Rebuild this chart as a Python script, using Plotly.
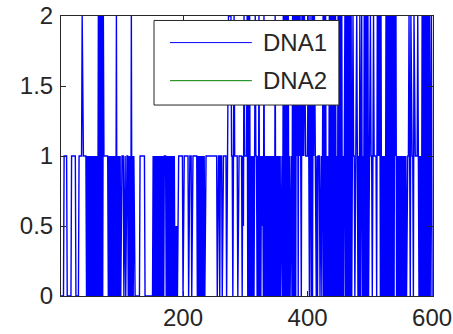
import plotly.graph_objects as go

# DNA1 sequence values (index 1..600)
dna1_a = ([0]*8 + [1]*5 + [0]*7 + [1]*7 + [0]*5 + [1]*5 + [2] + [1]*6 +
          [0,1,0,1,0,1,0,1,0,1,0,1,0,1,0,1,0,1,0] +
          [2,0,2,0,2,0,2,0,2] + [1]*7 +
          [0,1,0,1,0,1,0,1,0,1,0,1,0,2,0,1,0,1,0,1,0] +
          [1,1,1,1] + [0] + [1,1,0,1,1,1,0] + [1,0,1,0,2,0,1,0,1] +
          [0]*9 + [1]*8 + [0]*13 + [1])
dna1_b = ([0,1]*9 + [1,1] + [0,1,0,1,0,1,0,1,0,1,0,1,0,1,0] +
          [0.5,0,0.5,0] + [1]*8 + [0] + [1]*8 + [0] + [1]*4 + [0] + [1]*8 +
          [0,1]*7 + [1]*18 + [0] + [1,1,1] + [0] + [1,1,1] + [0] + [1]*6 +
          [0] + [1,1] + [2]*5 + [1,1] + [0] + [1] + [2] + [1]*5 + [0] +
          [1]*6 + [0] + [1] + [0.5] + [2] + [1]*4 + [2])
dna1_c = ([0,2,0,2,0] + [1,0,1,0,1,0,1] + [2] + [1,1] +
          [0,1,0,2,0,1,0,1,0.5,1,0,2,0,1,0,1,0,1,0,1,0,1,0,1,0,1,0,1,0,2,
           0,1,0,1,0,1,0,1,0] +
          [1,1] + [0,2,0,2,0,2,0,2,0,2] + [0,1,0] + [1,1] + [0,2,0,2,0,2,0] +
          [2,1,2,0,2,1,2,1,0,2,1,2,1,2] + [1]*5 +
          [2,1,0,2,1,0,2,0,2,1,2] + [1,1] + [0,1,0,1,1,1,0,1,1] +
          [0,1,2,0,2,0,2,0] + [1,0,1] + [0,2,0,2,0,2,0,2,0,2,0,2,0] + [1,0])
dna1_d = ([2,0,2,0,2,0,2] + [0,1,0,1] + [2,0,2,0,2,0,2,0,2,0,2,0,2] +
          [2,1,1,0,1,1,2,1] +
          [0,1,0,2,0,1,2,0,1,0,2,0,2,0,2,0,2,0,1] +
          [1,2,1,1,0,1,2,1,1,1,1] + [0,2,1,2,1,2,0,2,0] + [1,0,1,0,1,0] +
          [2,0]*7 + [2,1,2,0] + [1,0]*8 + [1] +
          [1,1,2,1,0,2,1,1,1,0] + [2,1,1,1,1,1,2,1] + [0,1,0,1,0,2] +
          [0,2,0,2,0,2,0,2,0,2,0,2,0] + [1,2,0])
dna1 = dna1_a + dna1_b + dna1_c + dna1_d
positions = list(range(1, len(dna1) + 1))
dna2 = [None] * len(dna1)   # DNA2 is not visible in the plot

series_names = ["DNA1", "DNA2"]
series_colors = ["#0000FF", "#008000"]
x_ticks = [200, 400, 600]
y_ticks = [0, 0.5, 1, 1.5, 2]
y_ticktext = ["0", "0.5", "1", "1.5", "2"]

fig = go.Figure()
fig.add_trace(go.Scatter(x=positions, y=dna1, mode="lines", name=series_names[0],
                         line=dict(color=series_colors[0], width=1.4)))
fig.add_trace(go.Scatter(x=positions, y=dna2, mode="lines", name=series_names[1],
                         line=dict(color=series_colors[1], width=1)))

font = dict(family="Liberation Sans, Arial, sans-serif", size=24, color="#262626")

fig.update_layout(
    width=453, height=334,
    margin=dict(l=61, r=20, t=16, b=38, autoexpand=False),
    paper_bgcolor="white", plot_bgcolor="white",
    showlegend=False,
    font=font,
    xaxis=dict(range=[4, 601.5], tickvals=x_ticks, ticks="inside", ticklen=5,
               tickcolor="#262626", showline=True, linecolor="#262626", linewidth=1,
               mirror="ticks", showgrid=False, zeroline=False, tickfont=font,
               automargin=False),
    yaxis=dict(range=[0, 2], tickvals=y_ticks, ticktext=y_ticktext, ticks="inside",
               ticklen=5, tickcolor="#262626", showline=True, linecolor="#262626",
               linewidth=1, mirror="ticks", showgrid=False, zeroline=False,
               tickfont=font, ticklabelstandoff=2, automargin=False),
)

# Legend box drawn to match the reference layout
lx0, lx1, ly0, ly1 = 0.25, 0.747, 0.682, 0.984
fig.add_shape(type="rect", xref="paper", yref="paper", x0=lx0, x1=lx1, y0=ly0, y1=ly1,
              fillcolor="white", line=dict(color="#262626", width=1), layer="above")
legend_y = [0.905, 0.769]
for name, color, yy in zip(series_names, series_colors, legend_y):
    fig.add_shape(type="line", xref="paper", yref="paper", x0=0.293, x1=0.513,
                  y0=yy, y1=yy, line=dict(color=color, width=1), layer="above")
    fig.add_annotation(xref="paper", yref="paper", x=0.538, y=yy, text=name,
                       showarrow=False, xanchor="left", yanchor="middle", font=font)

fig.write_html(
    "out.html",
    config={"displayModeBar": False},
    post_script="document.body.style.margin='0';document.body.style.overflow='hidden';",
)
